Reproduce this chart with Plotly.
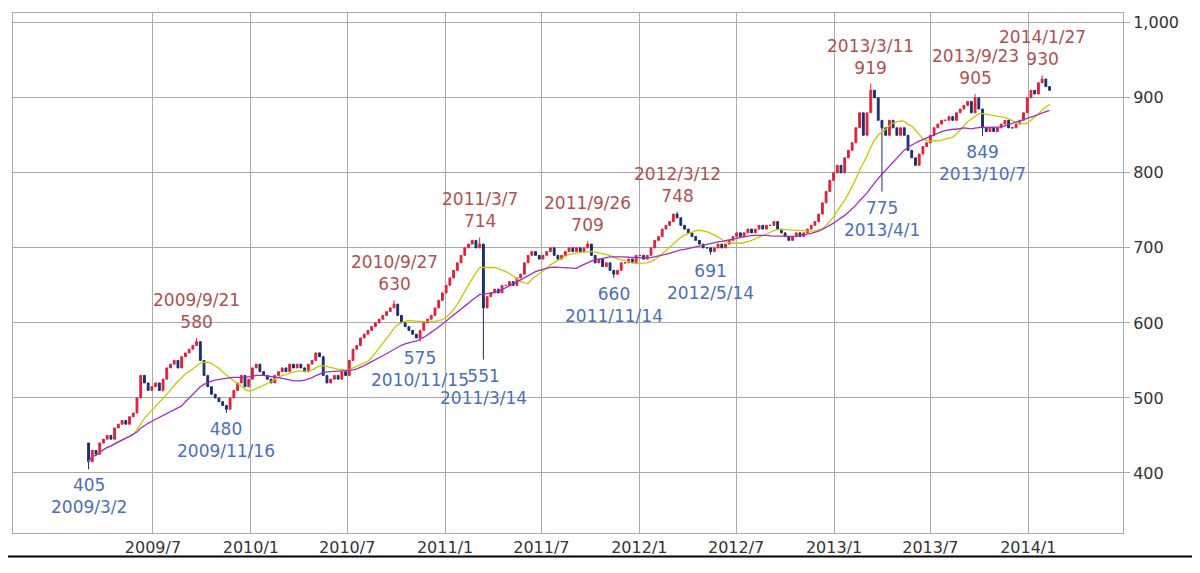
import pandas as pd
import plotly.graph_objects as go

closes = [415,430,425,440,445, 450,445,460,465, 470,465,475,480, 500,530,520,510,515,
 520,510,525,540, 545,550,540,555,560, 565,570,575,550, 530,515,505,500, 495,490,485,500,510,
 520,530,515,525,
 540,545,535,530, 525,520,530,535, 540,535,545,540,545, 540,535,545,550, 560,555,530,520,525,
 530,525,535,530, 550,565,570,580, 585,590,595,600,605, 610,615,620,625, 610,600,595,590,
 585,580,590,600,605, 610,620,630,640,
 650,660,670,680,690, 700,705,710,700, 705,620,635,640, 645,640,650,650, 655,650,660,665,680,
 690,695,690,685, 690,695,700,690, 685,690,695,700,695, 700,695,700,705, 690,680,685,675,680,
 670,665,670,680, 680,685,680,690,
 690,685,690,700,710, 715,725,730,735, 745,740,730,725, 720,715,710,705,700, 700,695,700,705,
 700,705,710,715, 720,715,720,725,720, 725,730,725,730, 730,735,725,720, 715,710,715,720,715,
 720,725,730,735, 745,760,775,790,800,
 810,800,820,830, 840,860,880,850, 880,910,900,870, 860,850,870,860,850, 860,850,830,820,
 810,825,835,840, 850,860,865,870,870, 875,870,880,885, 890,895,880,900,885, 860,855,860,855,
 860,865,870,860, 860,865,870,880,900,
 910,905,920,925, 915,910]
first_open = 440
high_overrides = {"2009-09-21":580,"2010-09-27":630,"2011-03-07":714,"2011-09-26":709,
                  "2012-03-12":748,"2013-03-11":919,"2013-09-23":905,"2014-01-27":930}
low_overrides = {"2009-03-02":405,"2009-11-16":480,"2010-11-15":575,"2011-03-14":551,
                 "2011-11-14":660,"2012-05-14":691,"2013-04-01":775,"2013-10-07":849}
highs_lbl = [("2009-09-21",580,"2009/9/21"),("2010-09-27",630,"2010/9/27"),("2011-03-07",714,"2011/3/7"),
             ("2011-09-26",709,"2011/9/26"),("2012-03-12",748,"2012/3/12"),("2013-03-11",919,"2013/3/11"),
             ("2013-09-23",905,"2013/9/23"),("2014-01-27",930,"2014/1/27")]
lows_lbl = [("2009-03-02",405,"2009/3/2"),("2009-11-16",480,"2009/11/16"),("2010-11-15",575,"2010/11/15"),
            ("2011-03-14",551,"2011/3/14"),("2011-11-14",660,"2011/11/14"),("2012-05-14",691,"2012/5/14"),
            ("2013-04-01",775,"2013/4/1"),("2013-10-07",849,"2013/10/7")]
tickvals = ["2009-07-01","2010-01-01","2010-07-01","2011-01-01","2011-07-01","2012-01-01",
            "2012-07-01","2013-01-01","2013-07-01","2014-01-01"]
ticktext = ["2009/7","2010/1","2010/7","2011/1","2011/7","2012/1","2012/7","2013/1","2013/7","2014/1"]

dates = pd.date_range("2009-03-02", periods=len(closes), freq="7D")
ds = [d.strftime("%Y-%m-%d") for d in dates]
opens = [first_open] + closes[:-1]
highs = [max(o, c) for o, c in zip(opens, closes)]
lows = [min(o, c) for o, c in zip(opens, closes)]
for i, d in enumerate(ds):
    if d in high_overrides: highs[i] = high_overrides[d]
    if d in low_overrides: lows[i] = low_overrides[d]
s = pd.Series(closes)
ma13 = s.rolling(13, min_periods=1).mean()
ma26 = s.rolling(26, min_periods=1).mean()

fig = go.Figure()
fig.add_trace(go.Candlestick(x=ds, open=opens, high=highs, low=lows, close=closes,
    increasing=dict(line=dict(color="#e0203a", width=1), fillcolor="#e0203a"),
    decreasing=dict(line=dict(color="#1a2f6e", width=1), fillcolor="#1a2f6e"),
    whiskerwidth=0, showlegend=False))
fig.add_trace(go.Scatter(x=ds, y=ma13, mode="lines", line=dict(color="#c8c800", width=1.3), showlegend=False))
fig.add_trace(go.Scatter(x=ds, y=ma26, mode="lines", line=dict(color="#a030c0", width=1.3), showlegend=False))
for d, v, t in highs_lbl:
    fig.add_annotation(x=d, y=v, text=f"{t}<br>{v}", showarrow=False, yanchor="bottom", yshift=4,
                       font=dict(color="#b05050", size=17))
for d, v, t in lows_lbl:
    fig.add_annotation(x=d, y=v, text=f"{v}<br>{t}", showarrow=False, yanchor="top", yshift=-4,
                       font=dict(color="#4a70b8", size=17))
fig.add_shape(type="line", xref="paper", yref="paper", x0=-0.005, x1=1.07, y0=-0.045, y1=-0.045,
              line=dict(color="black", width=2))
fig.update_layout(width=1200, height=573, margin=dict(l=5, r=85, t=5, b=48),
    plot_bgcolor="white", paper_bgcolor="white", font=dict(family="DejaVu Sans", size=16, color="#333"),
    xaxis=dict(range=["2008-10-11", "2014-06-28"], rangeslider=dict(visible=False),
               tickvals=tickvals, ticktext=ticktext, showgrid=True, gridcolor="#aaa",
               showline=True, linecolor="#aaa", mirror=True, ticks=""),
    yaxis=dict(range=[320, 1013], side="right", tickvals=[400,500,600,700,800,900,1000],
               tickformat=",", showgrid=True, gridcolor="#aaa", showline=True, linecolor="#aaa",
               mirror=True, ticks="outside", ticklen=6, tickcolor="#aaa"))
fig.write_html("out.html")
